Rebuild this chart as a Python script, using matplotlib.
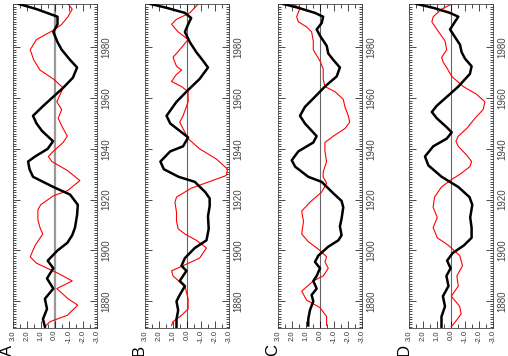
import matplotlib
matplotlib.use('Agg')
import matplotlib.pyplot as plt
from matplotlib.ticker import MultipleLocator

plt.rcParams['font.family'] = ['Liberation Sans', 'DejaVu Sans']

panels = ['A', 'B', 'C', 'D']

# panel A
a_black_yr = [1997, 1995, 1992, 1989, 1986, 1982, 1979, 1975, 1972, 1968, 1964, 1960, 1957, 1953,
              1950, 1947, 1943, 1940, 1937, 1935, 1932, 1929, 1925, 1922, 1918, 1914, 1909, 1906,
              1903, 1900, 1896, 1893, 1889, 1885, 1881, 1877, 1873, 1870]
a_black = [2.55, 1.3, -0.2, -0.2, 0.1, -0.2, -0.5, -1.1, -1.6, -1.3, -0.6, 0.2, 0.8, 1.55,
           1.3, 0.9, 0.12, 0.5, 1.4, 1.9, 1.8, 1.55, 0.1, -1.1, -1.65, -1.6, -1.45, -1.25,
           -0.9, -0.2, 0.5, 0.1, 0.55, 0.1, 0.7, 0.55, 0.84, 0.7]
a_red_yr = [1997, 1995, 1992, 1989, 1987, 1983, 1979, 1975, 1971, 1967.5, 1964, 1961.5, 1958.5, 1955.5,
            1952, 1948, 1945, 1942.5, 1939, 1937, 1935, 1931.5, 1927.5, 1923.5, 1921.5, 1918, 1916,
            1912, 1909, 1906.5, 1902, 1897.5, 1895, 1891, 1888, 1885, 1881, 1878.5, 1874.5, 1872, 1870]
a_red = [-0.95, -1.25, -0.95, -0.5, -0.02, 1.3, 1.75, 1.5, 1.05, 0.1, -0.6, -0.4, -0.15, -0.5,
         -0.25, -0.6, -0.9, -0.6, 0.1, 0.45, 0.2, -0.9, -1.8, -0.9, 0.1, 1.0, 1.2,
         1.2, 1.05, 0.85, 1.4, 1.75, 1.3, -0.25, -1.25, -0.15, -0.95, -1.65, -0.9, 0.33, 0.7]

# panel B
b_black_yr = [1997, 1995.5, 1993.5, 1991.5, 1989, 1986, 1982, 1978, 1975, 1972, 1967.5, 1962.5, 1958.5,
              1953, 1950, 1947, 1944.5, 1941, 1939, 1935, 1932, 1929, 1927, 1923, 1920.5, 1917.5,
              1913.5, 1908.5, 1904, 1901, 1897, 1894, 1892, 1890, 1888, 1886, 1882.5, 1880, 1876.5,
              1873, 1870]
b_black = [2.6, 1.46, 0.15, -0.3, -0.08, 0.15, -0.2, -0.67, -1.1, -1.5, -0.9, 0.04, 0.75,
           1.46, 1.2, 0.5, -0.08, 0.28, 1.2, 1.9, 1.66, 0.6, -0.56, -1.3, -1.62, -1.62,
           -1.5, -1.55, -1.39, -0.56, 0.15, 0.39, 0.04, 0.28, 0.52, 0.15, 0.52, 0.75, 0.63,
           0.75, 0.75]
b_red_yr = [1997, 1993.5, 1991, 1989, 1986, 1983, 1979, 1976, 1972.5, 1971, 1969, 1966.5, 1964.5,
            1962.5, 1958.5, 1953, 1950.5, 1946.5, 1944, 1940, 1936, 1932, 1929.5, 1927.5, 1924.5,
            1921, 1919, 1915, 1911.5, 1908.5, 1906.5, 1904, 1901, 1897, 1894, 1892, 1890, 1887,
            1886, 1881, 1877, 1874.5, 1872, 1870.5]
b_red = [-0.8, -0.2, 0.75, 1.1, 0.63, -0.08, 0.52, 1.0, 0.75, 0.39, 0.8, 1.1, 0.39,
         -0.08, -0.08, 0.28, 0.52, 0.15, -0.08, -0.9, -2.1, -2.9, -2.8, -1.8, -0.3,
         0.75, 0.86, 0.75, 0.75, 0.63, 0.15, -0.67, -1.39, -0.9, 0.28, 1.1, 1.0, 0.39,
         0.15, -0.08, -0.08, 0.39, 1.0, 1.1]

# panel C
c_black_yr = [1997, 1995.5, 1993.5, 1992, 1989.5, 1987, 1984.5, 1980.5, 1977.5, 1975, 1972, 1968.5,
              1964.5, 1960.5, 1956.5, 1953, 1950, 1945, 1942.5, 1939, 1935.5, 1933, 1929, 1927,
              1922.5, 1919.5, 1917, 1912.5, 1909.5, 1906, 1904, 1901.5, 1898, 1895.5, 1893, 1890,
              1888, 1885, 1882.5, 1880, 1876.5, 1873, 1870.5]
c_black = [2.64, 1.57, 0.38, -0.2, -0.1, 0.26, 0.02, -0.46, -0.57, -0.93, -1.4, -1.17,
           -0.33, 0.38, 1.1, 1.45, 1.1, 0.26, 0.5, 1.57, 2.04, 1.8, 0.86, -0.1,
           -0.93, -1.52, -1.64, -1.52, -1.4, -1.52, -1.29, -0.57, 0.14, 0.38, 0.02, 0.26,
           0.5, 0.26, 0.62, 0.5, 0.74, 0.86, 0.86]
c_red_yr = [1997, 1995.5, 1992, 1990, 1988, 1986, 1982.5, 1979, 1974.5, 1971.5, 1967.5, 1964.5,
            1962.5, 1959.5, 1956.5, 1953, 1950.5, 1948, 1945, 1942.5, 1939, 1935, 1931, 1929,
            1926.5, 1923, 1919, 1915.5, 1911.5, 1906.5, 1903.5, 1900, 1897.5, 1895.5, 1893, 1890,
            1888, 1884, 1880.5, 1877.5, 1874, 1870.5]
c_red = [2.0, 1.45, 1.69, 1.57, 0.98, 0.62, 0.5, 0.5, 0.02, -0.21, -0.21, -0.33,
         -1.05, -1.64, -1.76, -2.0, -2.1, -1.76, -0.93, -0.33, -0.33, -0.45, -0.21, -0.2,
         -0.45, -0.1, 0.74, 1.33, 1.2, 1.33, 0.86, 0.02, -0.45, -0.33, -0.57, -0.21,
         0.5, 1.33, 0.98, 0.02, -0.45, -0.45]

# panel D
d_black_yr = [1997, 1995.5, 1993.5, 1992, 1990, 1987, 1984, 1981, 1978, 1975.5, 1972.5, 1969.5,
              1964.5, 1961, 1957, 1954.5, 1952, 1948.5, 1946.5, 1944, 1941, 1937, 1933.5, 1929,
              1925, 1921, 1918, 1913, 1909, 1905, 1902, 1899, 1896, 1893, 1890, 1886, 1882,
              1878, 1874, 1870]
d_black = [2.47, 1.29, 0.09, -0.5, -0.26, 0.09, -0.26, -0.62, -0.74, -0.98, -1.45, -1.33,
           -0.5, 0.21, 1.03, 1.39, 1.03, 0.33, -0.03, 0.33, 1.29, 1.88, 1.64, 0.69,
           -0.5, -1.3, -1.5, -1.35, -1.45, -1.45, -0.9, -0.1, 0.3, 0.05, 0.35, 0.2, 0.6,
           0.45, 0.7, 0.7]
d_red_yr = [1997, 1995, 1992, 1990, 1987, 1982.5, 1979, 1976, 1974, 1972, 1968.5, 1964.5,
            1961.5, 1958.5, 1955.5, 1952, 1948, 1945, 1943, 1941, 1937.5, 1935, 1933, 1930,
            1928, 1925, 1921, 1917, 1913, 1909, 1905, 1902, 1898, 1894, 1890, 1886, 1882,
            1878, 1875, 1872, 1870]
d_red = [-0.03, 0.69, 1.29, 1.39, 1.03, 0.45, 0.33, 0.69, 0.57, 0.33, -0.03, -0.86,
         -1.8, -2.4, -2.28, -1.69, -1.1, -0.5, -0.33, -0.5, -1.1, -1.45, -1.33, -0.62,
         -0.03, 0.7, 1.2, 1.3, 1.0, 1.3, 1.0, 0.2, -0.6, -0.8, -0.4, -0.5, 0.0,
         -0.6, -0.7, -0.3, 0.0]

black_series = [(a_black_yr, a_black), (b_black_yr, b_black), (c_black_yr, c_black), (d_black_yr, d_black)]
red_series = [(a_red_yr, a_red), (b_red_yr, b_red), (c_red_yr, c_red), (d_red_yr, d_red)]
value_ticks = [3, 2, 1, 0, -1, -2, -3]
year_ticks = [1880, 1900, 1920, 1940, 1960, 1980]

W, H = 508, 356
fig = plt.figure(figsize=(W / 100, H / 100), dpi=100)

lefts = [12.7, 145.0, 278.3, 409.3]
for i, name in enumerate(panels):
    ax = fig.add_axes([lefts[i] / W, 28 / H, 84 / W, 324 / H])
    ax.axvline(0, color='#999999' if i == 0 else '#666666', lw=1.6 if i == 0 else 0.8, zorder=1)
    yr, v = red_series[i]
    ax.plot(v, yr, color='red', lw=0.8, zorder=2)
    yr, v = black_series[i]
    ax.plot(v, yr, color='black', lw=1.8, zorder=3)

    ax.set_xlim(3, -3)
    ax.set_ylim(1869.5, 1997)
    ax.set_xticks(value_ticks)
    ax.set_xticklabels(['%.1f' % t for t in value_ticks], rotation=90, fontsize=5.5, color='#333333')
    ax.xaxis.set_minor_locator(MultipleLocator(0.5))
    ax.set_yticks(year_ticks)
    ax.set_yticklabels([str(t) for t in year_ticks], rotation=90, va='center', fontsize=7, color='#444444')
    ax.yaxis.set_minor_locator(MultipleLocator(1))
    ax.yaxis.tick_right()
    ax.tick_params(axis='both', which='both', direction='in', top=True, bottom=True,
                   left=True, right=True, width=0.5)
    ax.tick_params(axis='x', which='major', length=5, pad=1.5)
    ax.tick_params(axis='x', which='minor', length=3)
    ax.tick_params(axis='y', which='major', length=5, pad=3)
    ax.tick_params(axis='y', which='minor', length=2)
    for s in ax.spines.values():
        s.set_linewidth(0.6)
        s.set_color('#444444')
    fig.text((lefts[i] - 5.5) / W, 0.5 / H, name, rotation=90, fontsize=12, ha='center', va='bottom')

fig.savefig('out.png', dpi=100)
